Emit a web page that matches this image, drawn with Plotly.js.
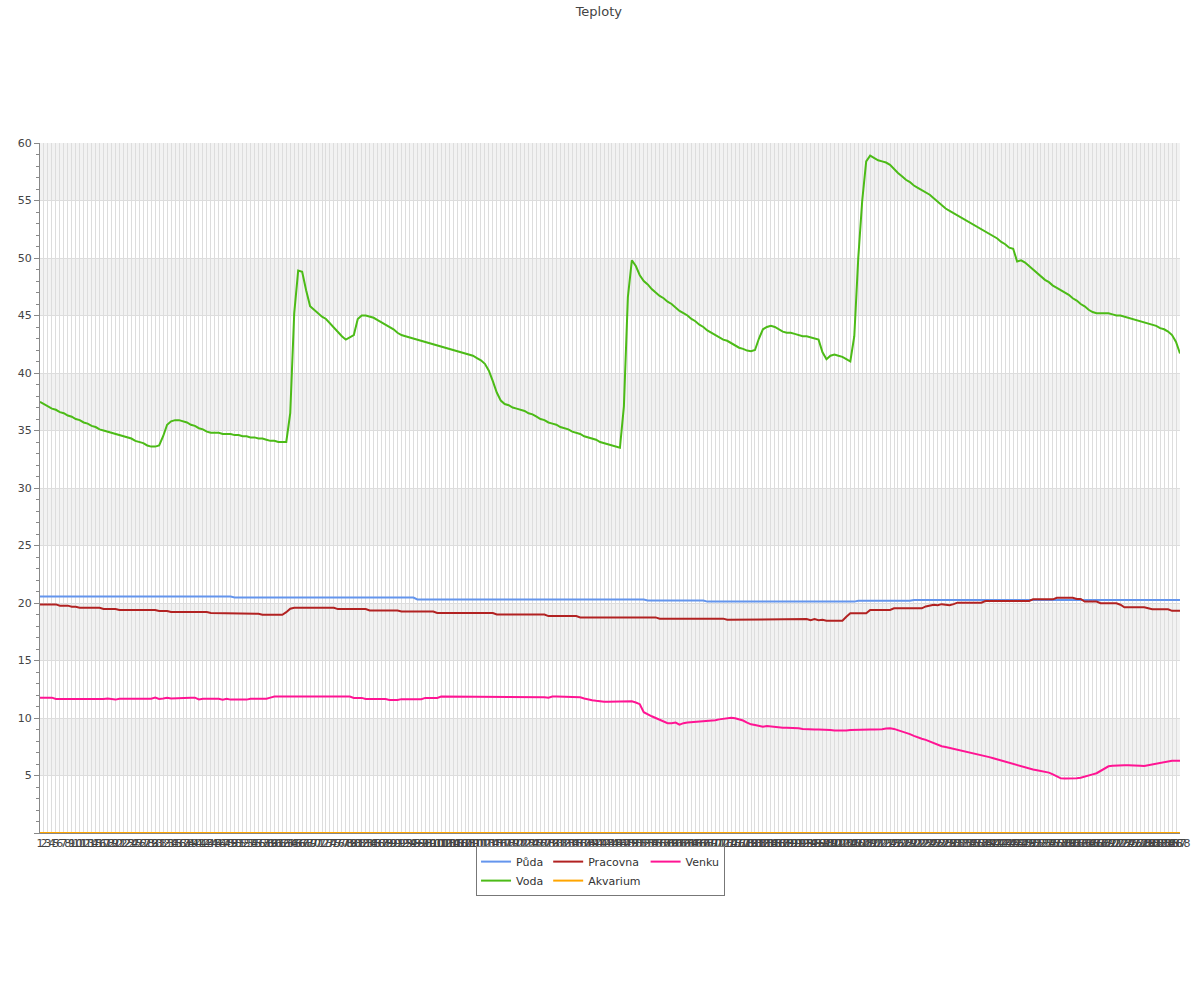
<!DOCTYPE html>
<html>
<head>
<meta charset="utf-8">
<script src="https://cdn.plot.ly/plotly-3.0.1.min.js"></script>
<style>html,body{margin:0;padding:0;background:#fff;}#chart{width:1200px;height:1000px;}</style>
</head>
<body>
<div id="chart"></div>
<script>
const labels = [
1,2,3,4,5,6,7,8,9,10,11,12,13,14,15,16,17,18,19,20,
21,22,23,24,25,26,27,28,29,30,31,32,33,34,35,36,37,38,39,40,
41,42,43,44,45,46,47,48,49,50,51,52,53,54,55,56,57,58,59,60,
61,62,63,64,65,66,67,68,69,70,71,72,73,74,75,76,77,78,79,80,
81,82,83,84,85,86,87,88,89,90,91,92,93,94,95,96,97,98,99,100,
101,102,103,104,105,106,107,108,109,110,111,112,113,114,115,116,117,118,119,120,
121,122,123,124,125,126,127,128,129,130,131,132,133,134,135,136,137,138,139,140,
141,142,143,144,145,146,147,148,149,150,151,152,153,154,155,156,157,158,159,160,
161,162,163,164,165,166,167,168,169,170,171,172,173,174,175,176,177,178,179,180,
181,182,183,184,185,186,187,188,189,190,191,192,193,194,195,196,197,198,199,200,
201,202,203,204,205,206,207,208,209,210,211,212,213,214,215,216,217,218,219,220,
221,222,223,224,225,226,227,228,229,230,231,232,233,234,235,236,237,238,239,240,
241,242,243,244,245,246,247,248,249,250,251,252,253,254,255,256,257,258,259,260,
261,262,263,264,265,266,267,268,269,270,271,272,273,274,275,276,277,278,279,280,
281,282,283,284,285,286,287,288
];

const puda = [
20.56,20.56,20.56,20.56,20.56,20.56,20.56,20.56,20.56,20.56,
20.56,20.56,20.56,20.56,20.56,20.56,20.56,20.56,20.56,20.56,
20.56,20.56,20.56,20.56,20.56,20.56,20.56,20.56,20.56,20.56,
20.56,20.56,20.56,20.56,20.56,20.56,20.56,20.56,20.56,20.56,
20.56,20.56,20.56,20.56,20.56,20.56,20.56,20.56,20.56,20.48,
20.48,20.48,20.48,20.48,20.48,20.48,20.48,20.48,20.48,20.48,
20.48,20.48,20.42,20.48,20.48,20.48,20.48,20.48,20.48,20.48,
20.48,20.48,20.48,20.48,20.48,20.48,20.48,20.48,20.48,20.48,
20.48,20.48,20.48,20.48,20.48,20.48,20.48,20.48,20.48,20.48,
20.48,20.48,20.48,20.48,20.48,20.31,20.31,20.31,20.31,20.31,
20.31,20.31,20.31,20.31,20.31,20.31,20.31,20.31,20.31,20.31,
20.31,20.31,20.31,20.31,20.31,20.31,20.31,20.31,20.31,20.31,
20.31,20.31,20.31,20.31,20.31,20.31,20.31,20.31,20.31,20.31,
20.31,20.31,20.31,20.31,20.31,20.31,20.31,20.31,20.31,20.31,
20.31,20.31,20.31,20.31,20.31,20.31,20.31,20.31,20.31,20.31,
20.31,20.31,20.31,20.22,20.22,20.22,20.22,20.22,20.22,20.22,
20.22,20.22,20.22,20.22,20.22,20.22,20.22,20.22,20.12,20.12,
20.12,20.12,20.12,20.12,20.12,20.12,20.12,20.12,20.12,20.12,
20.12,20.12,20.12,20.12,20.12,20.12,20.12,20.12,20.12,20.12,
20.12,20.12,20.12,20.12,20.12,20.06,20.12,20.12,20.12,20.12,
20.12,20.12,20.12,20.12,20.12,20.12,20.19,20.19,20.19,20.19,
20.19,20.19,20.19,20.19,20.19,20.19,20.19,20.19,20.19,20.19,
20.26,20.26,20.26,20.26,20.26,20.26,20.26,20.26,20.26,20.26,
20.26,20.26,20.26,20.26,20.26,20.26,20.26,20.26,20.26,20.26,
20.26,20.26,20.26,20.26,20.26,20.26,20.26,20.26,20.26,20.26,
20.26,20.26,20.26,20.26,20.26,20.26,20.26,20.26,20.26,20.26,
20.26,20.26,20.26,20.26,20.26,20.26,20.26,20.26,20.26,20.26,
20.26,20.26,20.26,20.26,20.26,20.26,20.26,20.26,20.26,20.26,
20.26,20.26,20.26,20.26,20.26,20.26,20.26,20.26
];

const voda = [
37.5,37.3,37.1,36.9,36.8,36.6,36.5,36.3,36.2,36.0,
35.9,35.7,35.6,35.4,35.3,35.1,35.0,34.9,34.8,34.7,
34.6,34.5,34.4,34.3,34.1,34.0,33.9,33.7,33.6,33.6,
33.7,34.5,35.5,35.8,35.9,35.9,35.8,35.7,35.5,35.4,
35.2,35.1,34.9,34.8,34.8,34.8,34.7,34.7,34.7,34.6,
34.6,34.5,34.5,34.4,34.4,34.3,34.3,34.2,34.1,34.1,
34.0,34.0,34.0,36.5,45.2,48.9,48.8,47.2,45.8,45.5,
45.2,44.9,44.7,44.3,43.9,43.5,43.2,42.9,43.1,43.3,
44.7,45.0,45.0,44.9,44.8,44.6,44.4,44.2,44.0,43.8,
43.5,43.3,43.2,43.1,43.0,42.9,42.8,42.7,42.6,42.5,
42.4,42.3,42.2,42.1,42.0,41.9,41.8,41.7,41.6,41.5,
41.3,41.1,40.8,40.2,39.3,38.3,37.6,37.3,37.2,37.0,
36.9,36.8,36.7,36.5,36.4,36.2,36.0,35.9,35.7,35.6,
35.5,35.3,35.2,35.1,34.9,34.8,34.7,34.5,34.4,34.3,
34.2,34.0,33.9,33.8,33.7,33.6,33.5,37.1,46.6,49.8,
49.3,48.5,48.0,47.7,47.3,47.0,46.7,46.5,46.2,46.0,
45.7,45.4,45.2,45.0,44.7,44.5,44.2,44.0,43.7,43.5,
43.3,43.1,42.9,42.8,42.6,42.4,42.2,42.1,41.95,41.9,
42.0,43.0,43.8,44.0,44.1,44.0,43.8,43.6,43.5,43.5,
43.4,43.3,43.2,43.2,43.1,43.0,42.9,41.8,41.2,41.5,
41.6,41.5,41.4,41.2,41.0,43.2,50.0,55.0,58.4,58.9,
58.7,58.5,58.4,58.3,58.1,57.7,57.4,57.1,56.8,56.6,
56.3,56.1,55.9,55.7,55.5,55.2,54.9,54.6,54.3,54.1,
53.9,53.7,53.5,53.3,53.1,52.9,52.7,52.5,52.3,52.1,
51.9,51.7,51.4,51.2,50.9,50.8,49.7,49.8,49.6,49.3,
49.0,48.7,48.4,48.1,47.9,47.6,47.4,47.2,47.0,46.8,
46.5,46.3,46.0,45.8,45.5,45.3,45.2,45.2,45.2,45.2,
45.1,45.0,45.0,44.9,44.8,44.7,44.6,44.5,44.4,44.3,
44.2,44.1,43.9,43.8,43.6,43.3,42.7,41.7
];

const pracovna = [
19.88,19.88,19.88,19.88,19.88,19.77,19.77,19.77,19.68,19.68,
19.59,19.59,19.59,19.59,19.59,19.59,19.48,19.48,19.48,19.48,
19.39,19.39,19.39,19.39,19.39,19.39,19.39,19.39,19.39,19.39,
19.3,19.3,19.3,19.22,19.22,19.22,19.22,19.22,19.22,19.22,
19.22,19.22,19.22,19.13,19.13,19.13,19.13,19.13,19.13,19.1,
19.07,19.07,19.07,19.07,19.07,19.07,18.98,18.98,18.98,18.98,
18.98,18.98,19.2,19.5,19.58,19.58,19.58,19.58,19.58,19.58,
19.58,19.58,19.58,19.58,19.58,19.47,19.47,19.47,19.47,19.47,
19.47,19.47,19.47,19.35,19.35,19.35,19.35,19.35,19.35,19.35,
19.35,19.26,19.26,19.26,19.26,19.26,19.26,19.26,19.26,19.26,
19.13,19.13,19.13,19.13,19.13,19.13,19.13,19.13,19.13,19.13,
19.13,19.13,19.13,19.13,19.13,19.0,19.0,19.0,19.0,19.0,
19.0,19.0,19.0,19.0,19.0,19.0,19.0,19.0,18.86,18.86,
18.86,18.86,18.86,18.86,18.86,18.86,18.75,18.75,18.75,18.75,
18.75,18.75,18.75,18.75,18.75,18.75,18.75,18.75,18.75,18.75,
18.75,18.75,18.75,18.75,18.75,18.75,18.64,18.64,18.64,18.64,
18.64,18.64,18.64,18.64,18.64,18.64,18.64,18.64,18.64,18.64,
18.64,18.64,18.64,18.54,18.54,18.54,18.54,18.54,18.54,18.54,
18.54,18.54,18.54,18.54,18.54,18.54,18.54,18.54,18.54,18.54,
18.54,18.54,18.54,18.6,18.5,18.6,18.5,18.55,18.46,18.46,
18.46,18.46,18.46,18.8,19.1,19.1,19.1,19.1,19.1,19.39,
19.39,19.39,19.39,19.39,19.39,19.54,19.54,19.54,19.54,19.54,
19.54,19.54,19.54,19.7,19.75,19.85,19.8,19.9,19.85,19.8,
19.9,20.03,20.03,20.03,20.03,20.03,20.03,20.03,20.17,20.17,
20.17,20.17,20.17,20.17,20.17,20.17,20.17,20.17,20.17,20.17,
20.32,20.32,20.32,20.32,20.32,20.32,20.46,20.46,20.46,20.46,
20.46,20.35,20.35,20.12,20.12,20.12,20.12,19.98,19.98,19.98,
19.98,19.98,19.85,19.63,19.63,19.63,19.63,19.63,19.63,19.55,
19.46,19.46,19.46,19.46,19.46,19.32,19.32,19.32
];

const akvarium = [
0,0,0,0,0,0,0,0,0,0, 0,0,0,0,0,0,0,0,0,0, 0,0,0,0,0,0,0,0,0,0,
0,0,0,0,0,0,0,0,0,0, 0,0,0,0,0,0,0,0,0,0, 0,0,0,0,0,0,0,0,0,0,
0,0,0,0,0,0,0,0,0,0, 0,0,0,0,0,0,0,0,0,0, 0,0,0,0,0,0,0,0,0,0,
0,0,0,0,0,0,0,0,0,0, 0,0,0,0,0,0,0,0,0,0, 0,0,0,0,0,0,0,0,0,0,
0,0,0,0,0,0,0,0,0,0, 0,0,0,0,0,0,0,0,0,0, 0,0,0,0,0,0,0,0,0,0,
0,0,0,0,0,0,0,0,0,0, 0,0,0,0,0,0,0,0,0,0, 0,0,0,0,0,0,0,0,0,0,
0,0,0,0,0,0,0,0,0,0, 0,0,0,0,0,0,0,0,0,0, 0,0,0,0,0,0,0,0,0,0,
0,0,0,0,0,0,0,0,0,0, 0,0,0,0,0,0,0,0,0,0, 0,0,0,0,0,0,0,0,0,0,
0,0,0,0,0,0,0,0,0,0, 0,0,0,0,0,0,0,0,0,0, 0,0,0,0,0,0,0,0,0,0,
0,0,0,0,0,0,0,0,0,0, 0,0,0,0,0,0,0,0
];

const venku = [
11.77,11.77,11.77,11.77,11.65,11.65,11.65,11.65,11.59,11.59,
11.59,11.59,11.59,11.59,11.59,11.59,11.65,11.7,11.62,11.6,
11.68,11.68,11.68,11.68,11.68,11.68,11.68,11.68,11.68,11.77,
11.66,11.7,11.77,11.7,11.72,11.77,11.77,11.77,11.77,11.77,
11.62,11.68,11.68,11.68,11.68,11.68,11.6,11.68,11.6,11.6,
11.6,11.6,11.6,11.68,11.68,11.68,11.68,11.68,11.77,11.86,
11.86,11.86,11.86,11.86,11.86,11.86,11.86,11.86,11.86,11.86,
11.86,11.86,11.86,11.86,11.86,11.86,11.86,11.86,11.86,11.75,
11.75,11.75,11.65,11.65,11.65,11.65,11.65,11.65,11.56,11.56,
11.56,11.64,11.64,11.64,11.64,11.64,11.64,11.75,11.75,11.75,
11.75,11.86,11.86,11.86,11.86,11.86,11.86,11.86,11.86,11.86,
11.86,11.86,11.86,11.86,11.8,11.8,11.8,11.8,11.8,11.86,
11.8,11.8,11.8,11.8,11.8,11.8,11.8,11.8,11.76,11.86,
11.86,11.86,11.86,11.86,11.86,11.8,11.8,11.7,11.6,11.55,
11.5,11.45,11.42,11.42,11.42,11.42,11.42,11.42,11.47,11.45,
11.35,11.2,10.5,10.3,10.15,10.0,9.85,9.7,9.55,9.55,
9.6,9.42,9.55,9.6,9.62,9.68,9.72,9.72,9.74,9.77,
9.8,9.88,9.95,10.02,10.03,9.98,9.88,9.78,9.6,9.45,
9.4,9.35,9.25,9.3,9.25,9.22,9.18,9.16,9.16,9.16,
9.14,9.1,9.05,9.02,9.01,9.0,9.0,9.0,9.0,8.95,
8.92,8.9,8.9,8.92,8.95,8.97,9.0,9.0,9.0,9.0,
9.0,9.0,9.02,9.08,9.1,9.05,8.95,8.85,8.72,8.6,
8.45,8.3,8.2,8.1,7.95,7.8,7.65,7.55,7.48,7.4,
7.33,7.27,7.2,7.12,7.05,6.95,6.85,6.78,6.7,6.6,
6.5,6.4,6.3,6.2,6.1,6.0,5.88,5.77,5.68,5.6,
5.52,5.45,5.38,5.3,5.25,5.1,4.9,4.75,4.73,4.73,
4.75,4.77,4.8,4.88,4.98,5.1,5.2,5.4,5.65,5.8,
5.85,5.88,5.9,5.9,5.9,5.9,5.9,5.85,5.83,5.9,
6.0,6.06,6.1,6.15,6.22,6.29,6.29,6.29
];

const seriesNames = ['Půda', 'Voda', 'Pracovna', 'Akvarium', 'Venku'];
const yTickVals = [0, 5, 10, 15, 20, 25, 30, 35, 40, 45, 50, 55, 60];
const yTickText = ['', '5', '10', '15', '20', '25', '30', '35', '40', '45', '50', '55', '60'];

const cats = labels.map(String);
const FONT = 'DejaVu Sans, Verdana, sans-serif';

function tr(name, y, color, group) {
  return {
    type: 'scatter', mode: 'lines', name: name, x: cats, y: y,
    line: {color: color, width: 2},
    legendgroup: group, hoverinfo: 'skip'
  };
}

const data = [
  tr(seriesNames[0], puda, '#6495ED', 'g1'),
  tr(seriesNames[1], voda, '#4CBB17', 'g1'),
  tr(seriesNames[2], pracovna, '#B22222', 'g2'),
  tr(seriesNames[3], akvarium, '#FFA500', 'g2'),
  tr(seriesNames[4], venku, '#FF1493', 'g3')
];

const shapes = [];
for (let v = 5; v < 60; v += 10) {
  shapes.push({type: 'rect', xref: 'paper', x0: 0, x1: 1, yref: 'y', y0: v, y1: v + 5,
    fillcolor: '#f2f2f2', line: {width: 0}, layer: 'below'});
}

const layout = {
  width: 1200, height: 1000,
  margin: {l: 40, r: 20, t: 143, b: 167, pad: 0},
  paper_bgcolor: '#ffffff', plot_bgcolor: '#ffffff',
  font: {family: FONT, size: 11, color: '#444'},
  title: {text: 'Teploty', x: 0.499, xanchor: 'center', xref: 'container', y: 0.989, yref: 'container', yanchor: 'middle',
    font: {family: FONT, size: 13, color: '#444'}},
  showlegend: true,
  legend: {orientation: 'h', traceorder: 'grouped', tracegroupgap: 0,
    x: 0.4917, xanchor: 'center', y: -0.019, yanchor: 'top',
    bordercolor: '#777', borderwidth: 1, bgcolor: '#ffffff',
    font: {family: FONT, size: 11, color: '#333'}},
  xaxis: {type: 'category', tickmode: 'array', tickvals: cats, ticktext: cats,
    range: [0, cats.length - 1], tickangle: 0, ticks: '',
    showgrid: true, gridcolor: '#dddddd', gridwidth: 1,
    showline: true, linecolor: '#888', linewidth: 1, zeroline: false,
    tickfont: {family: FONT, size: 11, color: '#444'}, fixedrange: true},
  yaxis: {range: [0, 60], tickmode: 'array', tickvals: yTickVals, ticktext: yTickText,
    ticks: 'outside', ticklen: 5, tickcolor: '#888', tickwidth: 1,
    minor: {dtick: 1, tick0: 0, ticks: 'outside', ticklen: 3, tickcolor: '#888', showgrid: false},
    showgrid: true, gridcolor: '#dddddd', gridwidth: 1,
    showline: true, linecolor: '#888', linewidth: 1, zeroline: false,
    tickfont: {family: FONT, size: 11, color: '#444'}, fixedrange: true},
  shapes: shapes
};

Plotly.newPlot('chart', data, layout, {displayModeBar: false, staticPlot: true});
</script>
</body>
</html>
